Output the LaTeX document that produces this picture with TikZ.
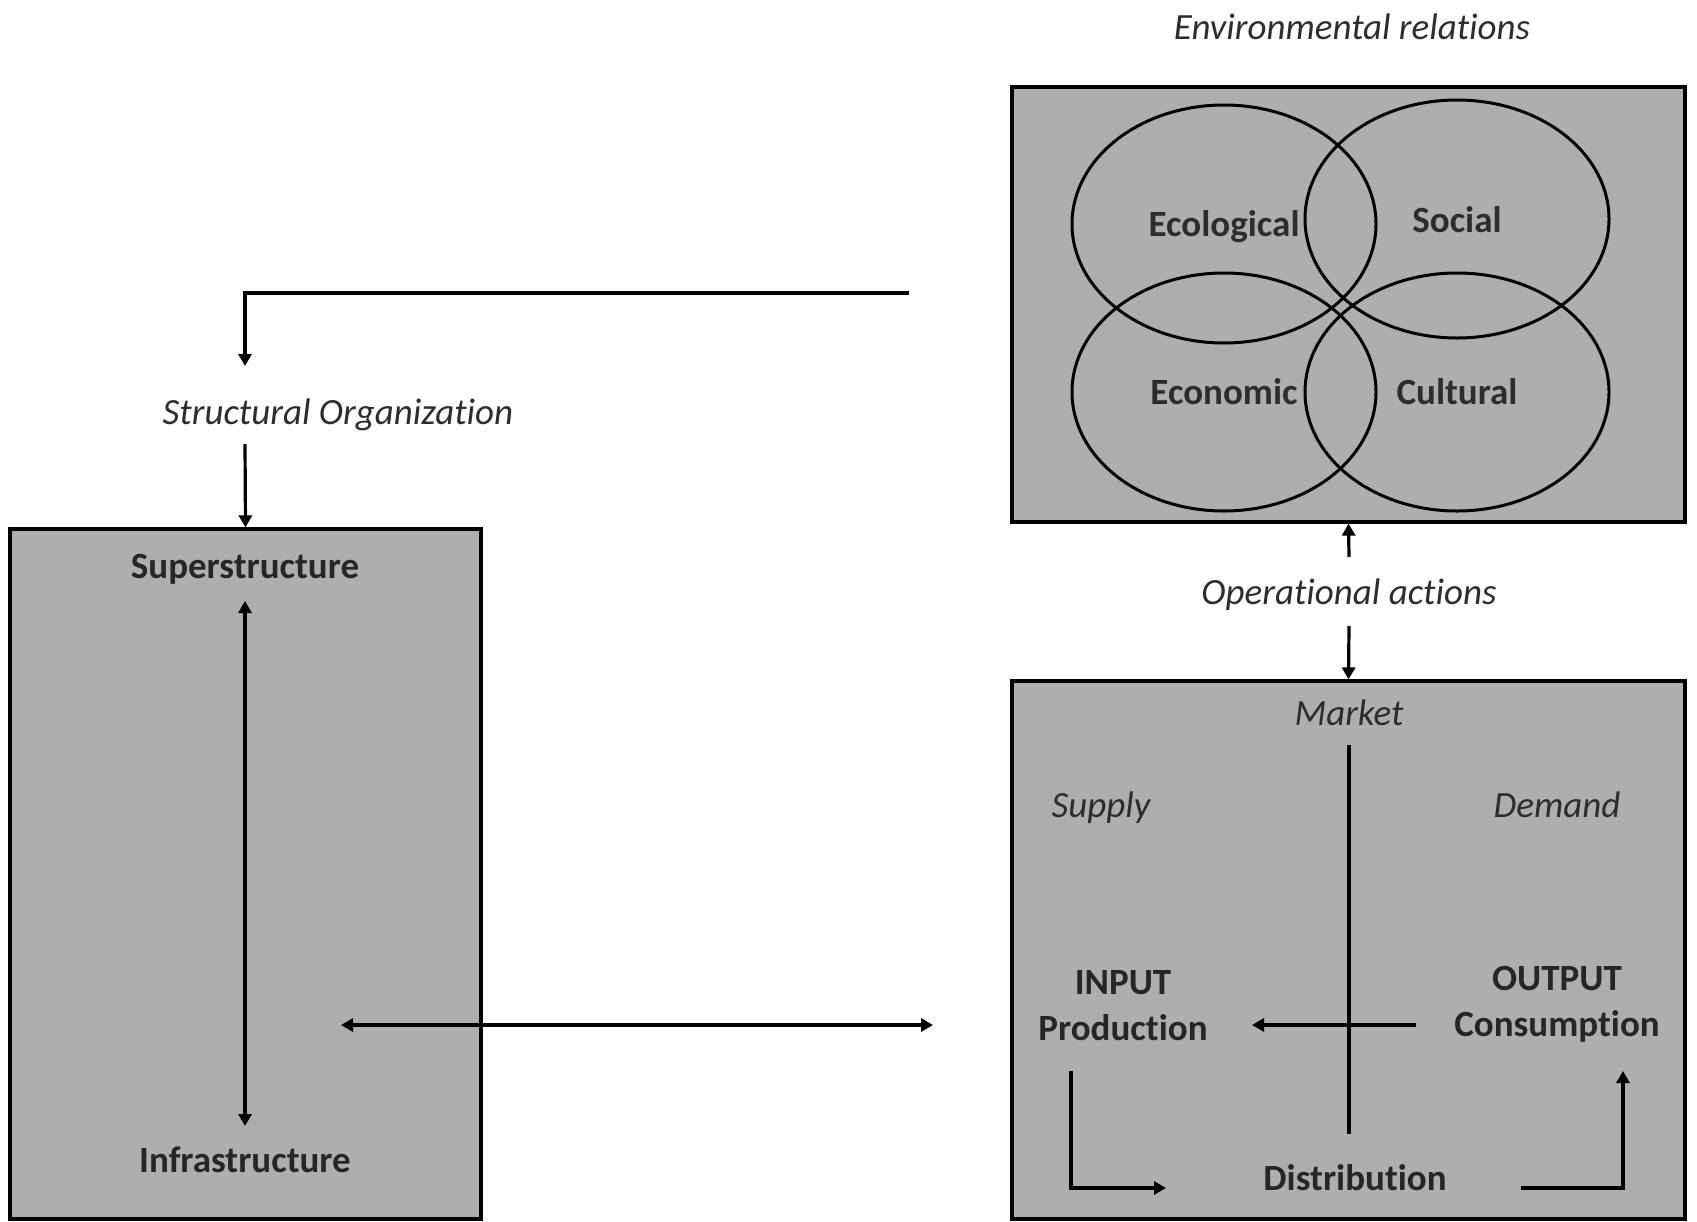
\documentclass[tikz,border=0pt]{standalone}
\usepackage{fontspec}
\setmainfont[Ligatures=NoCommon]{Carlito}
\usetikzlibrary{shapes.geometric,arrows.meta}
\definecolor{boxgray}{RGB}{174,174,174}
\definecolor{txtgray}{RGB}{45,45,45}
\tikzset{
  bigbox/.style={draw=black, fill=boxgray, line width=1.6pt, inner sep=0pt},
  ring/.style={draw=black, ellipse, line width=1.5pt, inner sep=0pt, minimum width=152pt, minimum height=119pt},
  blab/.style={font=\fontsize{18.5}{21}\selectfont\bfseries, text=black!85, align=center, inner sep=1pt},
  ilab/.style={font=\fontsize{18.5}{21}\selectfont\itshape, text=txtgray, inner sep=1pt},
  con/.style={line width=1.6pt, draw=black},
  arr/.style={con, -{Triangle[length=6pt,width=6.5pt]}},
  darr/.style={con, {Triangle[length=6pt,width=6.5pt]}-{Triangle[length=6pt,width=6.5pt]}},
}
\begin{document}
\begin{tikzpicture}[x=0.5pt,y=-0.5pt]
\useasboundingbox (0,0) rectangle (1697,1221);

% boxes
\node[bigbox, minimum width=336.5pt, minimum height=217.5pt] (envbox) at (1348.5,304.5) {};
\node[bigbox, minimum width=235.5pt, minimum height=345pt] (leftbox) at (245.5,874) {};
\node[bigbox, minimum width=336.5pt, minimum height=269pt] (marketbox) at (1348.5,950) {};

% ellipses
\node[ring] (eco) at (1224,224) {};
\node[ring] (soc) at (1457,219) {};
\node[ring] (econ) at (1224,392) {};
\node[ring] (cult) at (1457,392) {};
\node[blab, text=txtgray] (ecolab) at (1224,227) {Ecological};
\node[blab, text=txtgray] (soclab) at (1457,220) {Social};
\node[blab, text=txtgray] (econlab) at (1224,392) {Economic};
\node[blab, text=txtgray] (cultlab) at (1457,392) {Cultural};

% top labels
\node[ilab] (envrel) at (1352,27) {Environmental relations};
\node[ilab] (structorg) at (338,415) {Structural Organization};
\node[ilab] (opact) at (1349,595) {Operational actions};

% left box labels
\node[blab] (super) at (245,569) {Superstructure};
\node[blab] (infra) at (245,1160) {Infrastructure};

% market box labels
\node[ilab] (market) at (1349,713) {Market};
\node[ilab] (supply) at (1101,808) {Supply};
\node[ilab] (demand) at (1557,805) {Demand};
\node[blab] (input) at (1123,1006) {INPUT\\[2pt]Production};
\node[blab] (output) at (1557,1004) {OUTPUT\\[2pt]Consumption};
\node[blab] (distrib) at (1355,1178) {Distribution};

% coordinates
\coordinate (envout) at (909,293);
\coordinate (soin) at (245,366);
\coordinate (soout) at (245,444);
\coordinate (supbot) at (245,601);
\coordinate (inftop) at (245,1126);
\coordinate (linkL) at (341,1025);
\coordinate (linkR) at (933,1025);
\coordinate (opup) at (1349,557);
\coordinate (opdown) at (1349,626);
\coordinate (mktop) at (1349,745);
\coordinate (mkbot) at (1349,1134);
\coordinate (consL) at (1416,1025);
\coordinate (prodR) at (1252,1025);
\coordinate (prodbot) at (1071,1071);
\coordinate (distL) at (1166,1188);
\coordinate (distR) at (1521,1188);
\coordinate (consbot) at (1623,1071);

% connectors
\draw[arr] (envout) -| (soin);
\draw[arr] (soout) -- (leftbox.north);
\draw[darr] (supbot) -- (inftop);
\draw[darr] (linkL) -- (linkR);
\draw[arr] (opup) -- (envbox.south);
\draw[arr] (opdown) -- (marketbox.north);
\draw[con] (mktop) -- (mkbot);
\draw[arr] (consL) -- (prodR);
\draw[arr] (prodbot) |- (distL);
\draw[arr] (distR) -| (consbot);
\end{tikzpicture}
\end{document}
